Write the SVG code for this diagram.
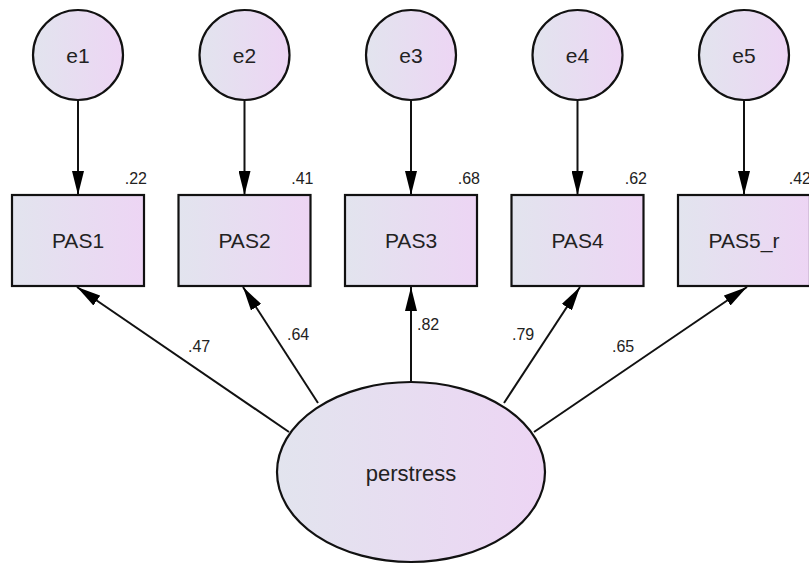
<svg xmlns="http://www.w3.org/2000/svg" width="809" height="564" viewBox="0 0 809 564">
<defs>
<linearGradient id="g" x1="0" y1="0" x2="1" y2="0">
<stop offset="0" stop-color="#e2e4ee"/>
<stop offset="1" stop-color="#edd5f4"/>
</linearGradient>
<marker id="ah" markerWidth="24" markerHeight="12" refX="24" refY="6" orient="auto" markerUnits="userSpaceOnUse">
<path d="M0,0 L24,6 L0,12 Z" fill="#000"/>
</marker>
<style>
.n{fill:url(#g);stroke:#111;stroke-width:2.2}
.c{stroke:#111;stroke-width:2;fill:none;marker-end:url(#ah)}
.t{font-family:"Liberation Sans",Arial,sans-serif;font-size:21px;fill:#222;text-anchor:middle}
.s{font-family:"Liberation Sans",Arial,sans-serif;font-size:16px;fill:#222}
</style>
</defs>
<rect width="809" height="564" fill="#fff"/>
<g id="connectors">
<line class="c" x1="78" y1="101" x2="78" y2="195"/>
<line class="c" x1="244.5" y1="101" x2="244.5" y2="195"/>
<line class="c" x1="411" y1="101" x2="411" y2="195"/>
<line class="c" x1="577.5" y1="101" x2="577.5" y2="195"/>
<line class="c" x1="744" y1="101" x2="744" y2="195"/>
<line class="c" x1="289" y1="432" x2="77" y2="287"/>
<line class="c" x1="318" y1="403" x2="243" y2="287"/>
<line class="c" x1="411" y1="382" x2="411" y2="287"/>
<line class="c" x1="504" y1="403" x2="580" y2="287"/>
<line class="c" x1="534" y1="432" x2="747" y2="287"/>
<text class="s" x="188" y="352">.47</text>
<text class="s" x="287" y="340">.64</text>
<text class="s" x="417" y="330">.82</text>
<text class="s" x="512" y="340">.79</text>
<text class="s" x="612" y="352">.65</text>
</g>
<g id="e1"><circle class="n" cx="78" cy="55" r="45"/><text class="t" x="78" y="63">e1</text></g>
<g id="e2"><circle class="n" cx="244.5" cy="55" r="45"/><text class="t" x="244.5" y="63">e2</text></g>
<g id="e3"><circle class="n" cx="411" cy="55" r="45"/><text class="t" x="411" y="63">e3</text></g>
<g id="e4"><circle class="n" cx="577.5" cy="55" r="45"/><text class="t" x="577.5" y="63">e4</text></g>
<g id="e5"><circle class="n" cx="744" cy="55" r="45"/><text class="t" x="744" y="63">e5</text></g>
<g id="PAS1"><rect class="n" x="12" y="195" width="132" height="91"/><text class="t" x="78" y="248">PAS1</text><text class="s" x="147" y="184" text-anchor="end">.22</text></g>
<g id="PAS2"><rect class="n" x="178.5" y="195" width="132" height="91"/><text class="t" x="244.5" y="248">PAS2</text><text class="s" x="313.5" y="184" text-anchor="end">.41</text></g>
<g id="PAS3"><rect class="n" x="345" y="195" width="132" height="91"/><text class="t" x="411" y="248">PAS3</text><text class="s" x="480" y="184" text-anchor="end">.68</text></g>
<g id="PAS4"><rect class="n" x="511.5" y="195" width="132" height="91"/><text class="t" x="577.5" y="248">PAS4</text><text class="s" x="647" y="184" text-anchor="end">.62</text></g>
<g id="PAS5_r"><rect class="n" x="678" y="195" width="132" height="91"/><text class="t" x="744" y="248">PAS5_r</text><text class="s" x="811" y="184" text-anchor="end">.42</text></g>
<g id="perstress"><ellipse class="n" cx="411" cy="472" rx="134" ry="90"/><text class="t" x="411" y="481" style="font-size:22px">perstress</text></g>
</svg>
